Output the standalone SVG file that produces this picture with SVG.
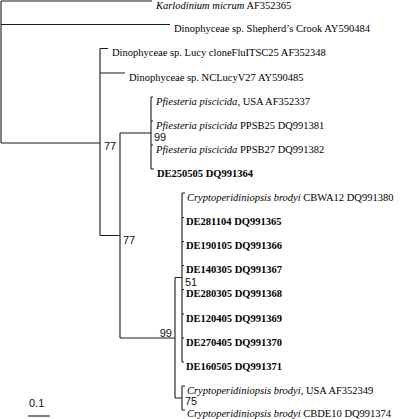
<svg xmlns="http://www.w3.org/2000/svg" width="400" height="419" viewBox="0 0 400 419">
<style>
.br{fill:none;stroke:#1a1a1a;stroke-width:1.1}
.t{font-family:"Liberation Serif","Times New Roman",serif;font-size:10.5px;fill:#000}
.b{font-weight:bold}
.i{font-style:italic}
.n{font-family:"Liberation Sans",Arial,sans-serif;font-size:11px;fill:#111}
</style>
<rect width="400" height="419" fill="#fff"/>
<g id="connectors" class="br">
<path d="M1,1V143M1,1H152M1,24.5H170M1,143H100"/>
<path d="M100,48.5V235.5M100,48.5H108M100,73H125M100,235.5H120"/>
<path d="M120,133V338M120,133H151M120,338H175"/>
<path d="M151,97V169M151,97H153M151,121H153M151,145H153M151,169H154"/>
<path d="M175,277.5V398M175,277.5H182M175,398H182"/>
<path d="M182,193V362M182,193H185M182,217.5H184M182,241.5H184M182,265.5H184M182,289.5H184M182,314H184M182,338H184M182,362H184"/>
<path d="M182,386V410M182,386H185M182,410H185"/>
</g>
<g id="tip1"><text class="t" x="156" y="9"><tspan class="i">Karlodinium micrum</tspan> AF352365</text></g>
<g id="tip2"><text class="t" x="174" y="32">Dinophyceae sp. Shepherd’s Crook AY590484</text></g>
<g id="tip3"><text class="t" x="112" y="56">Dinophyceae sp. Lucy cloneFluITSC25 AF352348</text></g>
<g id="tip4"><text class="t" x="129" y="80.5">Dinophyceae sp. NCLucyV27 AY590485</text></g>
<g id="tip5"><text class="t" x="156" y="104.5"><tspan class="i">Pfiesteria piscicida</tspan>, USA AF352337</text></g>
<g id="tip6"><text class="t" x="156" y="128.5"><tspan class="i">Pfiesteria piscicida</tspan> PPSB25 DQ991381</text></g>
<g id="tip7"><text class="t" x="156" y="152.5"><tspan class="i">Pfiesteria piscicida</tspan> PPSB27 DQ991382</text></g>
<g id="tip8"><text class="t b" x="157" y="176.5">DE250505 DQ991364</text></g>
<g id="tip9"><text class="t" x="187" y="200.5"><tspan class="i">Cryptoperidiniopsis brodyi</tspan> CBWA12 DQ991380</text></g>
<g id="tip10"><text class="t b" x="186" y="225">DE281104 DQ991365</text></g>
<g id="tip11"><text class="t b" x="186" y="249">DE190105 DQ991366</text></g>
<g id="tip12"><text class="t b" x="186" y="273">DE140305 DQ991367</text></g>
<g id="tip13"><text class="t b" x="186" y="297">DE280305 DQ991368</text></g>
<g id="tip14"><text class="t b" x="186" y="321.5">DE120405 DQ991369</text></g>
<g id="tip15"><text class="t b" x="186" y="345.5">DE270405 DQ991370</text></g>
<g id="tip16"><text class="t b" x="186" y="369.5">DE160505 DQ991371</text></g>
<g id="tip17"><text class="t" x="187" y="393.5"><tspan class="i">Cryptoperidiniopsis brodyi</tspan>, USA AF352349</text></g>
<g id="tip18"><text class="t" x="187" y="416.5"><tspan class="i">Cryptoperidiniopsis brodyi</tspan> CBDE10 DQ991374</text></g>
<g id="support">
<text class="n" x="104" y="150">77</text>
<text class="n" x="154" y="141">99</text>
<text class="n" x="123" y="243.5">77</text>
<text class="n" x="172" y="336.5" text-anchor="end">99</text>
<text class="n" x="185" y="285.5">51</text>
<text class="n" x="185" y="405">75</text>
</g>
<g id="scale">
<text class="n" x="29" y="407">0.1</text>
<path class="br" d="M28,416H50"/>
</g>
</svg>
